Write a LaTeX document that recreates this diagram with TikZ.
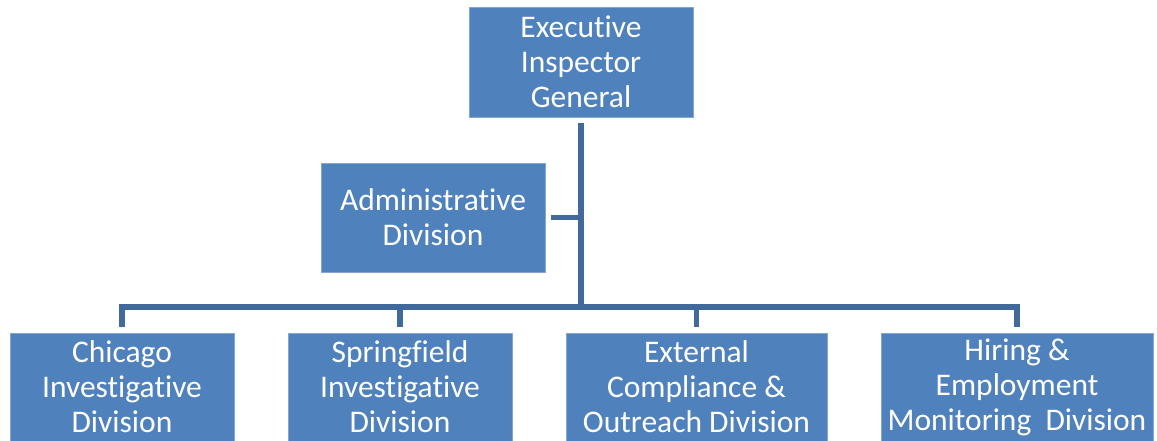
\documentclass[tikz,border=0pt]{standalone}
\usepackage{fontspec}
\setmainfont{Carlito}[RawFeature=-liga]
\definecolor{boxblue}{HTML}{4F81BD}
\definecolor{lineblue}{HTML}{41699B}
\begin{document}
\begin{tikzpicture}[x=1pt,y=-1pt,
  orgbox/.style={rectangle, fill=boxblue, draw=boxblue!70!white, line width=0.6pt, inner sep=0pt,
    text=white, align=center, font=\fontsize{31.5}{35}\selectfont},
  conn/.style={draw=lineblue, line width=5.5pt, line join=miter}]
\useasboundingbox (0,0) rectangle (1157,441);
\clip (0,0) rectangle (1157,441);
\node[orgbox, minimum width=224pt, minimum height=110pt] (top) at (581,62) {Executive\\Inspector\\General};
\node[orgbox, minimum width=224pt, minimum height=109pt] (adm) at (433,217.5) {Administrative\\Division};
\node[orgbox, minimum width=224pt, minimum height=108pt] (chi) at (122,387) {Chicago\\Investigative\\Division};
\node[orgbox, minimum width=224pt, minimum height=108pt] (spr) at (400,387) {Springfield\\Investigative\\Division};
\node[orgbox, minimum width=261pt, minimum height=108pt] (ext) at (696.5,387) {External\\Compliance \&\\Outreach Division};
\node[orgbox, minimum width=272pt, minimum height=108pt] (hir) at (1017,387) {\raisebox{-1.5pt}{\parbox{272pt}{\centering Hiring \&\\Employment\\Monitoring\ \ Division}}};
\coordinate (bus) at (581,307);
\draw[conn] ([yshift=6pt]chi.north) |- (bus) -| ([yshift=6pt]hir.north);
\draw[conn] ([yshift=-6pt]top.south) -- (bus);
\draw[conn] ([xshift=6pt]adm.east) -- (adm.east -| bus);
\draw[conn] ([yshift=6pt]spr.north) -- (spr.north |- bus);
\draw[conn] ([yshift=6pt]ext.north) -- (ext.north |- bus);
\end{tikzpicture}
\end{document}
